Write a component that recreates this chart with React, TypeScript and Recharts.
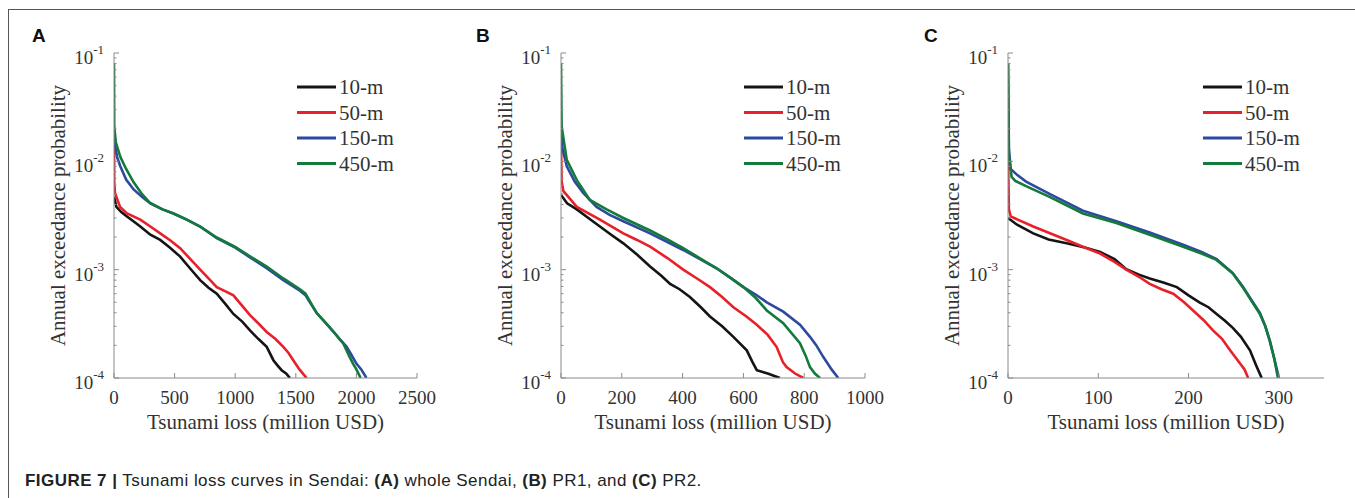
import * as React from "react";
import { Legend, Line, LineChart, XAxis, YAxis } from "recharts";

type Pt = { x: number; p: number };

// Panel A: whole Sendai
const A_10M: Pt[] = [
  { x: 0, p: 0.0047 }, { x: 20, p: 0.0038 }, { x: 60, p: 0.0034 }, { x: 107, p: 0.0031 },
  { x: 160, p: 0.0028 }, { x: 217, p: 0.0025 }, { x: 300, p: 0.0021 }, { x: 381, p: 0.00188 },
  { x: 460, p: 0.0016 }, { x: 546, p: 0.00132 }, { x: 630, p: 0.00102 }, { x: 711, p: 0.0008 },
  { x: 780, p: 0.00068 }, { x: 848, p: 0.0006 }, { x: 920, p: 0.00048 }, { x: 985, p: 0.00039 },
  { x: 1060, p: 0.00033 }, { x: 1122, p: 0.000275 }, { x: 1190, p: 0.00023 }, { x: 1260, p: 0.000194 },
  { x: 1315, p: 0.000146 }, { x: 1350, p: 0.00013 }, { x: 1383, p: 0.000118 }, { x: 1420, p: 0.00011 },
  { x: 1452, p: 0.0001 },
];
const A_50M: Pt[] = [
  { x: 0, p: 0.018 }, { x: 2, p: 0.0065 }, { x: 8, p: 0.0051 }, { x: 50, p: 0.0038 },
  { x: 107, p: 0.0033 }, { x: 217, p: 0.0029 }, { x: 300, p: 0.0025 }, { x: 381, p: 0.00216 },
  { x: 460, p: 0.00188 }, { x: 546, p: 0.00158 }, { x: 630, p: 0.00125 }, { x: 711, p: 0.001 },
  { x: 780, p: 0.00083 }, { x: 848, p: 0.00069 }, { x: 920, p: 0.00063 }, { x: 985, p: 0.00058 },
  { x: 1060, p: 0.00046 }, { x: 1122, p: 0.00038 }, { x: 1190, p: 0.00032 }, { x: 1260, p: 0.000266 },
  { x: 1330, p: 0.00023 }, { x: 1397, p: 0.000194 }, { x: 1440, p: 0.00017 }, { x: 1479, p: 0.000146 },
  { x: 1530, p: 0.00012 }, { x: 1589, p: 0.0001 },
];
const A_150M: Pt[] = [
  { x: 0, p: 0.02 }, { x: 8, p: 0.014 }, { x: 25, p: 0.011 }, { x: 52, p: 0.009 },
  { x: 100, p: 0.0068 }, { x: 162, p: 0.0055 }, { x: 230, p: 0.0047 }, { x: 300, p: 0.0041 },
  { x: 400, p: 0.0036 }, { x: 491, p: 0.0033 }, { x: 600, p: 0.0029 }, { x: 711, p: 0.0025 },
  { x: 848, p: 0.00195 }, { x: 1000, p: 0.0016 }, { x: 1122, p: 0.0013 }, { x: 1260, p: 0.00103 },
  { x: 1397, p: 0.0008 }, { x: 1534, p: 0.00064 }, { x: 1580, p: 0.00058 }, { x: 1671, p: 0.0004 },
  { x: 1750, p: 0.00032 }, { x: 1808, p: 0.00027 }, { x: 1860, p: 0.00023 }, { x: 1918, p: 0.000195 },
  { x: 1950, p: 0.00017 }, { x: 2000, p: 0.000136 }, { x: 2040, p: 0.00012 }, { x: 2083, p: 0.0001 },
];
const A_450M: Pt[] = [
  { x: 0, p: 0.079 }, { x: 2, p: 0.021 }, { x: 15, p: 0.015 }, { x: 52, p: 0.011 },
  { x: 100, p: 0.0085 }, { x: 162, p: 0.0064 }, { x: 230, p: 0.005 }, { x: 300, p: 0.0041 },
  { x: 400, p: 0.0036 }, { x: 491, p: 0.0033 }, { x: 600, p: 0.0029 }, { x: 711, p: 0.0025 },
  { x: 848, p: 0.00198 }, { x: 1000, p: 0.00162 }, { x: 1122, p: 0.00133 }, { x: 1260, p: 0.00107 },
  { x: 1397, p: 0.00083 }, { x: 1534, p: 0.00066 }, { x: 1580, p: 0.0006 }, { x: 1671, p: 0.0004 },
  { x: 1750, p: 0.00032 }, { x: 1808, p: 0.00027 }, { x: 1860, p: 0.00023 }, { x: 1891, p: 0.00021 },
  { x: 1940, p: 0.00016 }, { x: 1973, p: 0.000135 }, { x: 2000, p: 0.00012 }, { x: 2035, p: 0.0001 },
];

// Panel B: PR1
const B_10M: Pt[] = [
  { x: 0, p: 0.0049 }, { x: 20, p: 0.0041 }, { x: 52, p: 0.0036 }, { x: 90, p: 0.003 },
  { x: 128, p: 0.0025 }, { x: 165, p: 0.0021 }, { x: 205, p: 0.00175 }, { x: 250, p: 0.00138 },
  { x: 293, p: 0.00107 }, { x: 330, p: 0.00088 }, { x: 359, p: 0.00074 }, { x: 390, p: 0.00066 },
  { x: 424, p: 0.00056 }, { x: 460, p: 0.00045 }, { x: 490, p: 0.00037 }, { x: 530, p: 0.0003 },
  { x: 567, p: 0.00024 }, { x: 611, p: 0.00018 }, { x: 630, p: 0.00014 }, { x: 644, p: 0.000118 },
  { x: 680, p: 0.00011 }, { x: 720, p: 0.0001 },
];
const B_50M: Pt[] = [
  { x: 0, p: 0.015 }, { x: 2, p: 0.0065 }, { x: 8, p: 0.0053 }, { x: 52, p: 0.0038 },
  { x: 128, p: 0.0029 }, { x: 205, p: 0.00216 }, { x: 250, p: 0.00188 }, { x: 293, p: 0.00163 },
  { x: 350, p: 0.00128 }, { x: 402, p: 0.001 }, { x: 450, p: 0.00082 }, { x: 490, p: 0.00069 },
  { x: 530, p: 0.00056 }, { x: 567, p: 0.00045 }, { x: 610, p: 0.00037 }, { x: 644, p: 0.00031 },
  { x: 680, p: 0.00025 }, { x: 709, p: 0.000194 }, { x: 730, p: 0.00014 }, { x: 742, p: 0.000126 },
  { x: 770, p: 0.00011 }, { x: 797, p: 0.0001 },
];
const B_150M: Pt[] = [
  { x: 0, p: 0.02 }, { x: 5, p: 0.013 }, { x: 19, p: 0.009 }, { x: 45, p: 0.0065 },
  { x: 73, p: 0.0051 }, { x: 117, p: 0.0038 }, { x: 160, p: 0.0032 }, { x: 205, p: 0.0028 },
  { x: 293, p: 0.00216 }, { x: 350, p: 0.0018 }, { x: 402, p: 0.00152 }, { x: 460, p: 0.00124 },
  { x: 512, p: 0.00103 }, { x: 560, p: 0.00083 }, { x: 600, p: 0.00069 }, { x: 640, p: 0.00059 },
  { x: 677, p: 0.0005 }, { x: 731, p: 0.00041 }, { x: 786, p: 0.00031 }, { x: 819, p: 0.00024 },
  { x: 840, p: 0.0002 }, { x: 863, p: 0.000156 }, { x: 890, p: 0.00012 }, { x: 912, p: 0.0001 },
];
const B_450M: Pt[] = [
  { x: 0, p: 0.079 }, { x: 2, p: 0.021 }, { x: 19, p: 0.0103 }, { x: 52, p: 0.0067 },
  { x: 95, p: 0.0044 }, { x: 150, p: 0.0036 }, { x: 205, p: 0.003 }, { x: 293, p: 0.0023 },
  { x: 350, p: 0.0019 }, { x: 402, p: 0.00158 }, { x: 460, p: 0.00126 }, { x: 512, p: 0.00103 },
  { x: 560, p: 0.00083 }, { x: 600, p: 0.00069 }, { x: 640, p: 0.00055 }, { x: 677, p: 0.00042 },
  { x: 731, p: 0.00032 }, { x: 786, p: 0.00021 }, { x: 805, p: 0.00016 }, { x: 819, p: 0.000126 },
  { x: 835, p: 0.00011 }, { x: 852, p: 0.0001 },
];

// Panel C: PR2
const C_10M: Pt[] = [
  { x: 0, p: 0.003 }, { x: 10, p: 0.0026 }, { x: 28, p: 0.00216 }, { x: 45, p: 0.0019 },
  { x: 65, p: 0.00175 }, { x: 85, p: 0.0016 }, { x: 102, p: 0.00146 }, { x: 118, p: 0.00125 },
  { x: 131, p: 0.00101 }, { x: 145, p: 0.0009 }, { x: 157, p: 0.00083 }, { x: 172, p: 0.00076 },
  { x: 187, p: 0.00069 }, { x: 200, p: 0.00058 }, { x: 212, p: 0.0005 }, { x: 222, p: 0.00045 },
  { x: 231, p: 0.00039 }, { x: 240, p: 0.00034 }, { x: 249, p: 0.00029 }, { x: 258, p: 0.00024 },
  { x: 268, p: 0.00018 }, { x: 275, p: 0.00013 }, { x: 281, p: 0.0001 },
];
const C_50M: Pt[] = [
  { x: 0, p: 0.012 }, { x: 1, p: 0.0036 }, { x: 3, p: 0.0031 }, { x: 28, p: 0.0025 },
  { x: 65, p: 0.00188 }, { x: 85, p: 0.0016 }, { x: 102, p: 0.00141 }, { x: 118, p: 0.00118 },
  { x: 131, p: 0.001 }, { x: 145, p: 0.00086 }, { x: 157, p: 0.00074 }, { x: 170, p: 0.00066 },
  { x: 183, p: 0.0006 }, { x: 195, p: 0.0005 }, { x: 205, p: 0.00042 }, { x: 217, p: 0.00034 },
  { x: 227, p: 0.000275 }, { x: 237, p: 0.00023 }, { x: 246, p: 0.00018 }, { x: 256, p: 0.00014 },
  { x: 262, p: 0.00012 }, { x: 266, p: 0.0001 },
];
const C_150M: Pt[] = [
  { x: 0, p: 0.079 }, { x: 1, p: 0.013 }, { x: 3, p: 0.0085 }, { x: 10, p: 0.0075 },
  { x: 20, p: 0.0065 }, { x: 46, p: 0.005 }, { x: 83, p: 0.0035 }, { x: 120, p: 0.0028 },
  { x: 157, p: 0.0022 }, { x: 194, p: 0.0017 }, { x: 215, p: 0.00145 }, { x: 231, p: 0.00125 },
  { x: 249, p: 0.00093 }, { x: 260, p: 0.0007 }, { x: 270, p: 0.00052 }, { x: 279, p: 0.0004 },
  { x: 285, p: 0.0003 }, { x: 290, p: 0.00022 }, { x: 295, p: 0.00015 }, { x: 300, p: 0.0001 },
];
const C_450M: Pt[] = [
  { x: 0, p: 0.079 }, { x: 1, p: 0.011 }, { x: 4, p: 0.0072 }, { x: 8, p: 0.0066 },
  { x: 20, p: 0.0059 }, { x: 46, p: 0.0047 }, { x: 83, p: 0.0033 }, { x: 120, p: 0.0027 },
  { x: 157, p: 0.0021 }, { x: 194, p: 0.00163 }, { x: 215, p: 0.0014 }, { x: 231, p: 0.00123 },
  { x: 249, p: 0.00092 }, { x: 260, p: 0.00069 }, { x: 270, p: 0.00051 }, { x: 279, p: 0.00039 },
  { x: 285, p: 0.0003 }, { x: 290, p: 0.00022 }, { x: 295, p: 0.00015 }, { x: 299, p: 0.0001 },
];

const SERIES_NAMES = ["10-m", "50-m", "150-m", "450-m"];
const SERIES_COLORS = ["#141414", "#e8202a", "#2d4aa0", "#127a3a"];

const Y_MAJOR = [1e-4, 1e-3, 1e-2, 1e-1];
const Y_MINOR = [2, 3, 4, 5, 6, 7, 8, 9].flatMap((m) => [m * 1e-4, m * 1e-3, m * 1e-2]);
const Y_TICKS = [...Y_MAJOR, ...Y_MINOR].sort((a, b) => a - b);

const A_XTICKS = [0, 500, 1000, 1500, 2000, 2500];
const B_XTICKS = [0, 200, 400, 600, 800, 1000];
const C_XTICKS = [0, 100, 200, 300];

const SERIF = "'Liberation Serif', 'Times New Roman', serif";
const SANS = "'Liberation Sans', Arial, Helvetica, sans-serif";
const TEXT = "#333";
const AXIS = "#8a8a8a";

const isMajor = (v: number) => Y_MAJOR.some((m) => Math.abs(m - v) / m < 1e-6);

function LeftTick(props: any) {
  const { x, y, payload } = props;
  const major = isMajor(payload.value);
  const len = major ? 5 : 2.5;
  const exp = Math.round(Math.log10(payload.value));
  return (
    <g>
      <line x1={x} x2={x + len} y1={y} y2={y} stroke={AXIS} />
      {major && (
        <text x={x - 10} y={y} dy={11} textAnchor="end" fill={TEXT} fontFamily={SERIF} fontSize={19}>
          <tspan>10</tspan>
          <tspan dy={-10} fontSize={13}>{String(exp)}</tspan>
        </text>
      )}
    </g>
  );
}

function RightTick(props: any) {
  const { x, y, payload } = props;
  const len = isMajor(payload.value) ? 5 : 2.5;
  return <line x1={x} x2={x - len} y1={y} y2={y} stroke={AXIS} />;
}

function BottomTick(props: any) {
  const { x, y, payload } = props;
  return (
    <g>
      <line x1={x} x2={x} y1={y} y2={y - 5} stroke={AXIS} />
      <text x={x} y={y + 26} textAnchor="middle" fill={TEXT} fontFamily={SERIF} fontSize={19}>
        {payload.value}
      </text>
    </g>
  );
}

function TopTick(props: any) {
  const { x, y } = props;
  return <line x1={x} x2={x} y1={y} y2={y + 5} stroke={AXIS} />;
}

function LegendBox(props: any) {
  const items = [...((props.payload || []) as any[])].sort(
    (a, b) => SERIES_NAMES.indexOf(a.value) - SERIES_NAMES.indexOf(b.value),
  );
  return (
    <svg width={130} height={110} style={{ display: "block" }}>
      {items.map((it, i) => (
        <g key={it.value}>
          <line x1={0} x2={39} y1={13 + i * 25.5} y2={13 + i * 25.5} stroke={it.color} strokeWidth={3} />
          <text x={42} y={13 + i * 25.5} dy={7} fill={TEXT} fontFamily={SERIF} fontSize={21}>
            {it.value}
          </text>
        </g>
      ))}
    </svg>
  );
}

type PanelProps = {
  letter: string;
  left: number;
  width: number;
  plotLeft: number;
  plotRight: number;
  xMax: number;
  xTicks: number[];
  series: Pt[][];
  legendLeft: number;
  letterLeft: number;
};

const PLOT_TOP = 53;
const PLOT_BOTTOM = 378;
const CHART_H = 440;
const Y_AXIS_W = 60;

function Panel(props: PanelProps) {
  const margin = {
    top: PLOT_TOP,
    left: props.plotLeft - props.left - Y_AXIS_W,
    right: props.left + props.width - props.plotRight,
    bottom: CHART_H - PLOT_BOTTOM - 30,
  };
  return (
    <div style={{ position: "absolute", left: props.left, top: 0, width: props.width, height: CHART_H }}>
      <div
        style={{
          position: "absolute",
          left: props.letterLeft - props.left,
          top: 25,
          fontFamily: SANS,
          fontWeight: 700,
          fontSize: 19,
          color: "#111",
          zIndex: 2,
        }}
      >
        {props.letter}
      </div>
      <LineChart width={props.width} height={CHART_H} margin={margin}>
        <XAxis
          xAxisId="b"
          dataKey="x"
          type="number"
          domain={[0, props.xMax]}
          ticks={props.xTicks}
          interval={0}
          height={30}
          tickSize={0}
          tickMargin={0}
          tickLine={false}
          axisLine={{ stroke: AXIS }}
          tick={<BottomTick />}
          allowDataOverflow
          label={(lp: any) => {
            const vb = lp.viewBox;
            return (
              <text
                x={vb.x + vb.width / 2}
                y={vb.y + 51}
                textAnchor="middle"
                fill={TEXT}
                fontFamily={SERIF}
                fontSize={21}
              >
                Tsunami loss (million USD)
              </text>
            );
          }}
        />
        <XAxis
          xAxisId="t"
          orientation="top"
          type="number"
          domain={[0, props.xMax]}
          ticks={props.xTicks.slice(1)}
          interval={0}
          height={0}
          tickSize={0}
          tickMargin={0}
          tickLine={false}
          axisLine={{ stroke: AXIS }}
          tick={<TopTick />}
          allowDataOverflow
        />
        <YAxis
          yAxisId="l"
          scale="log"
          type="number"
          domain={[1e-4, 1e-1]}
          ticks={Y_TICKS}
          interval={0}
          width={Y_AXIS_W}
          tickSize={0}
          tickMargin={0}
          tickLine={false}
          axisLine={{ stroke: AXIS }}
          tick={<LeftTick />}
          allowDataOverflow
          label={(lp: any) => {
            const vb = lp.viewBox;
            const cx = vb.x + vb.width - 56;
            const cy = vb.y + vb.height / 2;
            return (
              <text
                x={cx}
                y={cy}
                transform={`rotate(-90 ${cx} ${cy})`}
                textAnchor="middle"
                dominantBaseline="central"
                fill={TEXT}
                fontFamily={SERIF}
                fontSize={21}
              >
                Annual exceedance probability
              </text>
            );
          }}
        />
        <YAxis
          yAxisId="r"
          orientation="right"
          scale="log"
          type="number"
          domain={[1e-4, 1e-1]}
          ticks={Y_TICKS}
          interval={0}
          width={0}
          tickSize={0}
          tickMargin={0}
          tickLine={false}
          axisLine={{ stroke: AXIS }}
          tick={<RightTick />}
          allowDataOverflow
        />
        <Legend
          layout="horizontal"
          align="center"
          verticalAlign="middle"
          content={<LegendBox />}
          wrapperStyle={{ position: "absolute", left: props.legendLeft - props.left, top: 74, width: 130 }}
        />
        {props.series.map((data, i) => (
          <Line
            key={SERIES_NAMES[i]}
            xAxisId="b"
            yAxisId="l"
            data={data}
            dataKey="p"
            name={SERIES_NAMES[i]}
            type="linear"
            stroke={SERIES_COLORS[i]}
            strokeWidth={2.6}
            dot={false}
            isAnimationActive={false}
          />
        ))}
      </LineChart>
    </div>
  );
}

export default function App() {
  return (
    <div
      style={{
        position: "absolute",
        left: 0,
        top: 0,
        width: 1355,
        height: 498,
        background: "#fff",
        overflow: "hidden",
      }}
    >
      <div
        style={{
          position: "absolute",
          left: 8,
          top: 9,
          width: 1360,
          height: 500,
          borderTop: "1px solid #555",
          borderLeft: "1px solid #555",
        }}
      />
      <Panel
        letter="A"
        left={0}
        width={450}
        plotLeft={114}
        plotRight={417}
        xMax={2500}
        xTicks={A_XTICKS}
        series={[A_10M, A_50M, A_150M, A_450M]}
        legendLeft={297}
        letterLeft={32}
      />
      <Panel
        letter="B"
        left={450}
        width={450}
        plotLeft={561}
        plotRight={865}
        xMax={1000}
        xTicks={B_XTICKS}
        series={[B_10M, B_50M, B_150M, B_450M]}
        legendLeft={744}
        letterLeft={476}
      />
      <Panel
        letter="C"
        left={900}
        width={455}
        plotLeft={1008}
        plotRight={1324}
        xMax={350}
        xTicks={C_XTICKS}
        series={[C_10M, C_50M, C_150M, C_450M]}
        legendLeft={1203}
        letterLeft={924}
      />
      <div
        style={{
          position: "absolute",
          left: 25,
          top: 471,
          fontFamily: SANS,
          fontSize: 17,
          letterSpacing: 0.45,
          color: "#222",
          whiteSpace: "nowrap",
        }}
      >
        <b>FIGURE 7 |</b> Tsunami loss curves in Sendai: <b>(A)</b> whole Sendai, <b>(B)</b> PR1, and{" "}
        <b>(C)</b> PR2.
      </div>
    </div>
  );
}
